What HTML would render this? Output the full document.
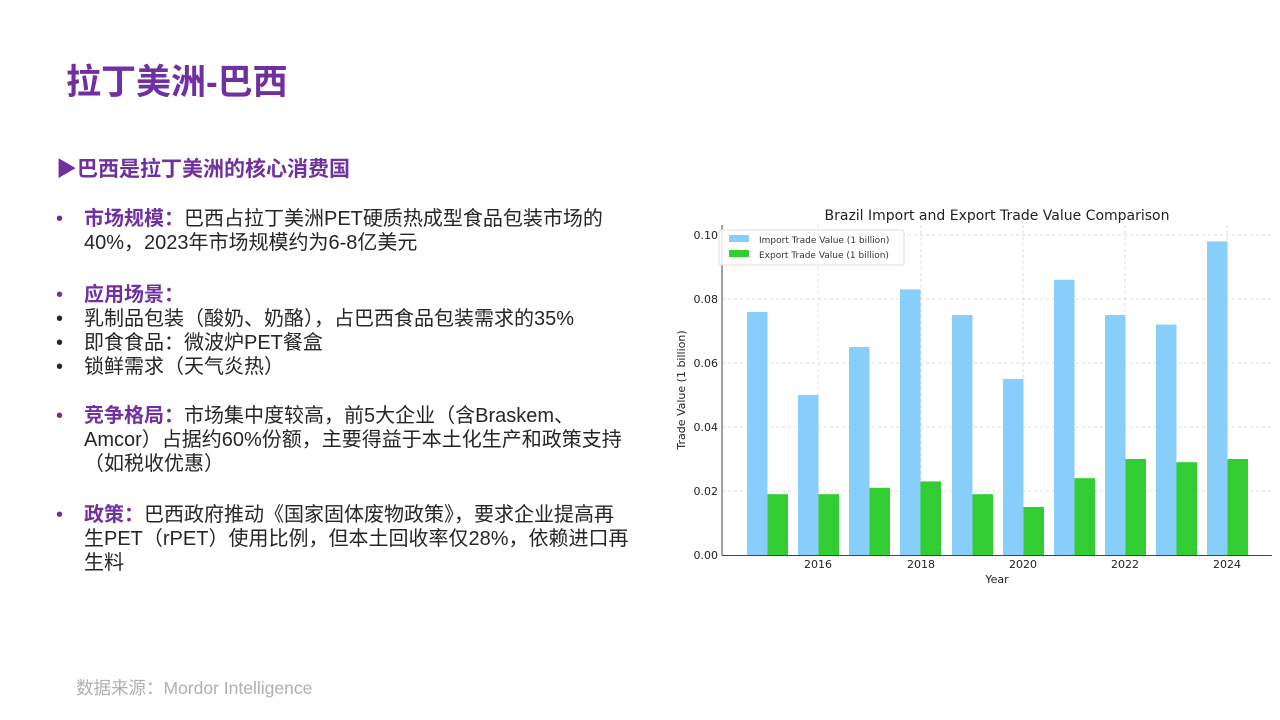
<!DOCTYPE html>
<html><head><meta charset="utf-8"><style>
body{margin:0;width:1280px;height:720px;background:#fff;position:relative;overflow:hidden;font-family:"Liberation Sans","Noto Sans CJK SC",sans-serif;}
.t{position:absolute;white-space:nowrap;}
.p{color:#7030a0;font-weight:bold;}
.b{font-size:20px;color:#262626;line-height:24px;}
</style></head><body>
<div class="t p" style="left:66px;top:54px;font-size:35px;">拉丁美洲-巴西</div>
<div class="t p" style="left:56px;top:153px;font-size:21px;">▶巴西是拉丁美洲的核心消费国</div>
<div class="t b" style="left:56px;top:207px;"><span style="color:#7030a0">•</span></div>
<div class="t b" style="left:84px;top:207px;"><span class="p">市场规模：</span>巴西占拉丁美洲PET硬质热成型食品包装市场的<br>40%，2023年市场规模约为6-8亿美元</div>
<div class="t b" style="left:56px;top:283px;"><span style="color:#7030a0">•</span></div>
<div class="t b" style="left:84px;top:283px;"><span class="p">应用场景：</span></div>
<div class="t b" style="left:56px;top:307px;">•<br>•<br>•</div>
<div class="t b" style="left:84px;top:307px;">乳制品包装（酸奶、奶酪），占巴西食品包装需求的35%<br>即食食品：微波炉PET餐盒<br>锁鲜需求（天气炎热）</div>
<div class="t b" style="left:56px;top:404px;"><span style="color:#7030a0">•</span></div>
<div class="t b" style="left:84px;top:404px;"><span class="p">竞争格局：</span>市场集中度较高，前5大企业（含Braskem、<br>Amcor）占据约60%份额，主要得益于本土化生产和政策支持<br>（如税收优惠）</div>
<div class="t b" style="left:56px;top:503px;"><span style="color:#7030a0">•</span></div>
<div class="t b" style="left:84px;top:503px;"><span class="p">政策：</span>巴西政府推动《国家固体废物政策》，要求企业提高再<br>生PET（rPET）使用比例，但本土回收率仅28%，依赖进口再<br>生料</div>
<div class="t" style="left:76px;top:675px;font-size:17.5px;color:#b0b0b0;">数据来源：Mordor Intelligence</div>
<svg style="position:absolute;left:0;top:0" width="1280" height="720" font-family="DejaVu Sans,Liberation Sans,sans-serif">
<g stroke="#ddd" stroke-dasharray="3,3" stroke-width="1">
<line x1="722" x2="1272" y1="235" y2="235"/><line x1="722" x2="1272" y1="299" y2="299"/><line x1="722" x2="1272" y1="363" y2="363"/><line x1="722" x2="1272" y1="427" y2="427"/><line x1="722" x2="1272" y1="491" y2="491"/>
<line x1="818" x2="818" y1="225" y2="555"/><line x1="921" x2="921" y1="225" y2="555"/><line x1="1023" x2="1023" y1="225" y2="555"/><line x1="1125" x2="1125" y1="225" y2="555"/><line x1="1227" x2="1227" y1="225" y2="555"/>
</g>
<g fill="#87cefa">
<rect x="747" y="312" width="20.5" height="243"/><rect x="798" y="395" width="20.5" height="160"/><rect x="849" y="347" width="20.5" height="208"/><rect x="900" y="289.4" width="20.5" height="265.6"/><rect x="952" y="315" width="20.5" height="240"/><rect x="1003" y="379" width="20.5" height="176"/><rect x="1054" y="279.8" width="20.5" height="275.2"/><rect x="1105" y="315" width="20.5" height="240"/><rect x="1156" y="324.6" width="20.5" height="230.4"/><rect x="1207" y="241.4" width="20.5" height="313.6"/>
</g>
<g fill="#32cd32">
<rect x="767.5" y="494.2" width="20.5" height="60.8"/><rect x="818.5" y="494.2" width="20.5" height="60.8"/><rect x="869.5" y="487.8" width="20.5" height="67.2"/><rect x="920.5" y="481.4" width="20.5" height="73.6"/><rect x="972.5" y="494.2" width="20.5" height="60.8"/><rect x="1023.5" y="507" width="20.5" height="48"/><rect x="1074.5" y="478.2" width="20.5" height="76.8"/><rect x="1125.5" y="459" width="20.5" height="96"/><rect x="1176.5" y="462.2" width="20.5" height="92.8"/><rect x="1227.5" y="459" width="20.5" height="96"/>
</g>
<g stroke="#444" stroke-width="1"><line x1="722" y1="225" x2="722" y2="555.5"/><line x1="722" y1="555.5" x2="1272" y2="555.5"/></g>
<g font-size="11" fill="#222" text-anchor="end">
<text x="718" y="239">0.10</text><text x="718" y="303">0.08</text><text x="718" y="367">0.06</text><text x="718" y="431">0.04</text><text x="718" y="495">0.02</text><text x="718" y="559">0.00</text>
</g>
<g font-size="11" fill="#222" text-anchor="middle">
<text x="818" y="568">2016</text><text x="921" y="568">2018</text><text x="1023" y="568">2020</text><text x="1125" y="568">2022</text><text x="1227" y="568">2024</text>
<text x="997" y="583">Year</text>
<text x="997" y="220" font-size="14">Brazil Import and Export Trade Value Comparison</text>
<text transform="translate(685,390) rotate(-90)" font-size="11">Trade Value (1 billion)</text>
</g>
<rect x="719" y="230" width="185" height="35" fill="#fff" fill-opacity="0.85" stroke="#ddd" rx="2"/>
<rect x="729" y="235" width="20" height="7" fill="#87cefa"/><rect x="729" y="250" width="20" height="7" fill="#32cd32"/>
<text x="759" y="243" font-size="9" fill="#333">Import Trade Value (1 billion)</text>
<text x="759" y="258" font-size="9" fill="#333">Export Trade Value (1 billion)</text>
</svg>
</body></html>
